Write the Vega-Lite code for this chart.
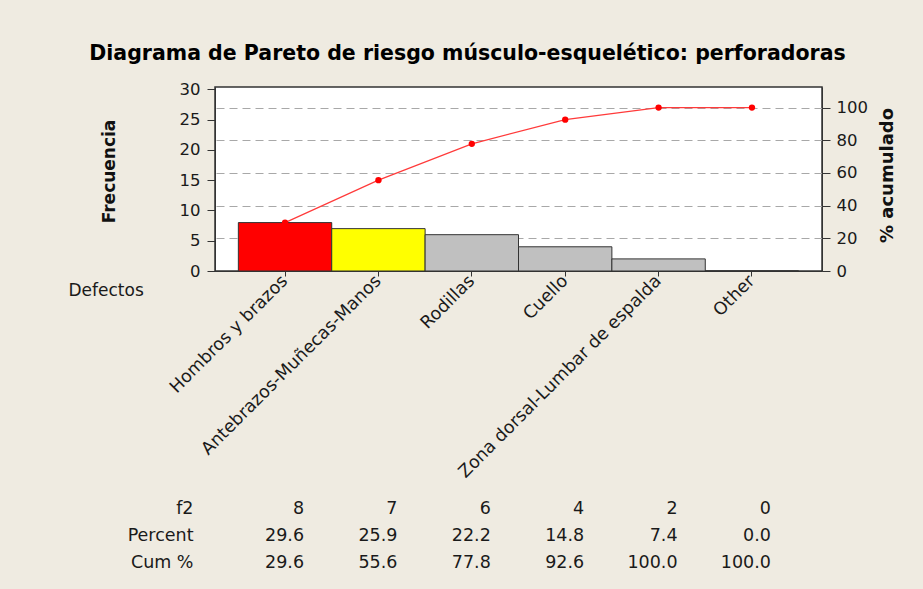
{
  "$schema": "https://vega.github.io/schema/vega-lite/v6.json",
  "background": "#EFEBE1",
  "padding": {"left": 67, "top": 44, "right": 29, "bottom": 17},
  "autosize": {"type": "pad"},
  "title": {
    "text": "Diagrama de Pareto de riesgo músculo-esquelético: perforadoras",
    "font": "DejaVu Sans", "fontSize": 20.5, "fontWeight": "bold", "color": "#000000",
    "anchor": "middle", "frame": "group", "dx": -51, "offset": 0, "baseline": "alphabetic"
  },
  "datasets": {
    "pareto": [
      {"defecto": "Hombros y brazos", "frecuencia": 8, "acumulado": 29.6},
      {"defecto": "Antebrazos-Muñecas-Manos", "frecuencia": 7, "acumulado": 55.6},
      {"defecto": "Rodillas", "frecuencia": 6, "acumulado": 77.8},
      {"defecto": "Cuello", "frecuencia": 4, "acumulado": 92.6},
      {"defecto": "Zona dorsal-Lumbar de espalda", "frecuencia": 2, "acumulado": 100},
      {"defecto": "Other", "frecuencia": 0, "acumulado": 100}
    ],
    "tabla": [
      {"defecto": "Hombros y brazos", "fila": "f2", "valor": "8"},
      {"defecto": "Antebrazos-Muñecas-Manos", "fila": "f2", "valor": "7"},
      {"defecto": "Rodillas", "fila": "f2", "valor": "6"},
      {"defecto": "Cuello", "fila": "f2", "valor": "4"},
      {"defecto": "Zona dorsal-Lumbar de espalda", "fila": "f2", "valor": "2"},
      {"defecto": "Other", "fila": "f2", "valor": "0"},
      {"defecto": "Hombros y brazos", "fila": "Percent", "valor": "29.6"},
      {"defecto": "Antebrazos-Muñecas-Manos", "fila": "Percent", "valor": "25.9"},
      {"defecto": "Rodillas", "fila": "Percent", "valor": "22.2"},
      {"defecto": "Cuello", "fila": "Percent", "valor": "14.8"},
      {"defecto": "Zona dorsal-Lumbar de espalda", "fila": "Percent", "valor": "7.4"},
      {"defecto": "Other", "fila": "Percent", "valor": "0.0"},
      {"defecto": "Hombros y brazos", "fila": "Cum %", "valor": "29.6"},
      {"defecto": "Antebrazos-Muñecas-Manos", "fila": "Cum %", "valor": "55.6"},
      {"defecto": "Rodillas", "fila": "Cum %", "valor": "77.8"},
      {"defecto": "Cuello", "fila": "Cum %", "valor": "92.6"},
      {"defecto": "Zona dorsal-Lumbar de espalda", "fila": "Cum %", "valor": "100.0"},
      {"defecto": "Other", "fila": "Cum %", "valor": "100.0"}
    ]
  },
  "bounds": "flush",
  "spacing": 224,
  "vconcat": [
    {
      "width": 607,
      "height": 184,
      "data": {"name": "pareto"},
      "view": {"fill": "#FFFFFF", "stroke": "#333333", "strokeWidth": 1.5},
      "layer": [
        {
          "mark": {"type": "bar", "stroke": "#333333", "strokeWidth": 1},
          "encoding": {
            "x": {
              "field": "defecto", "type": "nominal", "sort": null,
              "scale": {"type": "band", "paddingInner": 0, "paddingOuter": 0.25},
              "axis": {
                "title": "Defectos", "titleX": -147, "titleY": 19, "titleAlign": "left",
                "titleBaseline": "middle", "titleFontWeight": "normal", "titleFontSize": 17,
                "titleColor": "#1a1a1a",
                "labelAngle": -45, "labelAlign": "right", "labelBaseline": "middle",
                "labelFontSize": 17.5, "labelLimit": 500,
                "labelPadding": 2, "tickSize": 5, "domain": true
              }
            },
            "y": {
              "field": "frecuencia", "type": "quantitative",
              "scale": {"domain": [0, 30.4], "nice": false},
              "axis": {
                "orient": "left", "values": [0, 5, 10, 15, 20, 25, 30], "grid": false,
                "labelOverlap": false,
                "title": "Frecuencia", "titleAngle": 270, "titleX": -101, "titleY": 84,
                "titleAlign": "center", "titleBaseline": "alphabetic",
                "titleFontSize": 17, "titleFontWeight": "bold",
                "tickSize": 8, "labelPadding": 7
              }
            },
            "color": {
              "field": "defecto", "type": "nominal", "sort": null,
              "scale": {
                "domain": ["Hombros y brazos", "Antebrazos-Muñecas-Manos", "Rodillas", "Cuello", "Zona dorsal-Lumbar de espalda", "Other"],
                "range": ["#FF0000", "#FFFF00", "#C0C0C0", "#C0C0C0", "#C0C0C0", "#C0C0C0"]
              },
              "legend": null
            }
          }
        },
        {
          "mark": {
            "type": "line", "color": "#FF3A3A", "strokeWidth": 1.2,
            "point": {"filled": true, "color": "#FF0000", "size": 40, "opacity": 1}
          },
          "encoding": {
            "x": {"field": "defecto", "type": "nominal", "sort": null},
            "y": {
              "field": "acumulado", "type": "quantitative",
              "scale": {"domain": [0, 112.6], "nice": false},
              "axis": {
                "orient": "right", "values": [0, 20, 40, 60, 80, 100],
                "labelOverlap": false,
                "grid": true, "gridDash": [8, 5], "gridColor": "#A8A8A8", "gridWidth": 1,
                "title": "% acumulado", "titleAngle": 270, "titleX": 70, "titleY": 88,
                "titleAlign": "center", "titleBaseline": "alphabetic",
                "titleFontSize": 18, "titleFontWeight": "bold",
                "tickSize": 8, "labelPadding": 6
              }
            }
          }
        }
      ],
      "resolve": {"scale": {"y": "independent"}}
    },
    {
      "width": 607,
      "height": 81,
      "data": {"name": "tabla"},
      "view": {"stroke": null, "fill": null},
      "mark": {"type": "text", "align": "right", "baseline": "middle", "dx": 19, "fontSize": 17.5, "color": "#1a1a1a"},
      "encoding": {
        "x": {
          "field": "defecto", "type": "nominal",
          "scale": {
            "type": "band", "paddingInner": 0, "paddingOuter": 0.25,
            "domain": ["Hombros y brazos", "Antebrazos-Muñecas-Manos", "Rodillas", "Cuello", "Zona dorsal-Lumbar de espalda", "Other"]
          },
          "axis": null
        },
        "y": {
          "field": "fila", "type": "nominal",
          "scale": {"domain": ["f2", "Percent", "Cum %"]},
          "axis": {"title": null, "domain": false, "ticks": false, "tickSize": 0, "labelPadding": 22, "labelFontSize": 17.5}
        },
        "text": {"field": "valor", "type": "nominal"}
      }
    }
  ],
  "config": {
    "font": "DejaVu Sans",
    "axis": {
      "labelFont": "DejaVu Sans", "labelFontSize": 16.5, "labelColor": "#1a1a1a",
      "titleFont": "DejaVu Sans", "titleColor": "#111111",
      "domainColor": "#333333", "tickColor": "#333333", "grid": false
    },
    "text": {"font": "DejaVu Sans"}
  }
}
